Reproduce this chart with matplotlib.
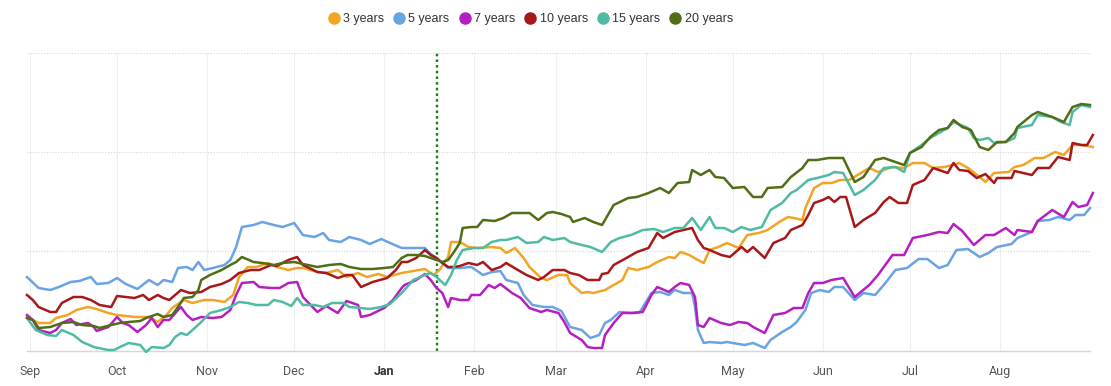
import matplotlib
matplotlib.use('Agg')

import numpy as np
from matplotlib import pyplot as plt

START = np.datetime64('2022-09-01')
MARKER_DAY = 140  # dotted vertical marker (mid January)

# (day offset from START, index value)
y3 = [(-1, 33), (1, 30), (3, 27), (7, 27), (9, 32), (13, 35), (16, 40), (20, 43), (23, 41), (27, 37),
      (30, 35), (33, 34), (36, 33), (39, 33), (41, 33), (44, 28), (47, 35), (49, 42), (53, 50), (56, 47),
      (60, 50), (63, 50), (67, 48), (70, 55), (72, 73), (75, 83), (78, 83), (82, 87), (85, 83), (89, 80),
      (92, 82), (94, 82), (99, 78), (102, 77), (106, 80), (109, 73), (113, 77), (116, 73), (120, 76), (123, 73),
      (128, 77), (132, 79), (136, 81), (139, 75), (141, 80), (144, 93), (145, 108), (148, 108), (151, 103), (154, 102),
      (159, 103), (162, 102), (164, 97), (167, 102), (170, 92), (172, 83), (176, 72), (178, 70), (182, 75), (185, 75),
      (186, 67), (190, 57), (192, 58), (194, 57), (198, 60), (201, 65), (204, 70), (206, 82), (209, 80), (213, 83),
      (216, 88), (220, 93), (222, 92), (224, 98), (227, 95), (230, 90), (232, 87), (234, 100), (237, 103), (240, 107),
      (244, 102), (247, 115), (251, 117), (254, 120), (258, 128), (261, 133), (263, 132), (266, 130), (267, 142), (270, 162),
      (273, 167), (276, 167), (279, 170), (282, 170), (285, 175), (289, 182), (292, 178), (297, 183), (301, 182), (304, 187),
      (308, 187), (311, 182), (315, 183), (320, 187), (323, 182), (327, 173), (329, 168), (332, 177), (337, 178), (339, 183),
      (342, 185), (346, 192), (349, 192), (353, 198), (356, 195), (359, 205), (362, 205), (366, 203)]

y5 = [(-1, 73), (3, 62), (7, 60), (10, 63), (14, 68), (17, 69), (21, 73), (23, 66), (27, 67), (30, 72),
      (33, 66), (37, 61), (41, 70), (44, 65), (46, 70), (49, 68), (51, 82), (54, 83), (56, 80), (58, 88),
      (60, 80), (63, 82), (67, 85), (69, 90), (71, 103), (73, 123), (77, 125), (80, 128), (84, 125), (87, 123),
      (91, 127), (94, 115), (98, 113), (101, 117), (103, 110), (107, 108), (110, 113), (114, 110), (117, 106), (121, 111),
      (124, 107), (128, 102), (131, 102), (136, 102), (138, 96), (140, 92), (142, 87), (144, 82), (148, 82), (152, 83),
      (156, 75), (159, 78), (162, 79), (164, 70), (168, 67), (170, 55), (173, 45), (177, 43), (180, 43), (183, 39),
      (186, 23), (190, 20), (193, 12), (196, 15), (198, 27), (200, 30), (203, 38), (207, 37), (210, 38), (214, 57),
      (217, 58), (220, 55), (222, 60), (225, 57), (228, 57), (229, 43), (230, 20), (232, 7), (234, 8), (238, 7),
      (240, 8), (242, 7), (246, 5), (249, 7), (253, 2), (255, 10), (259, 18), (262, 23), (264, 28), (267, 40),
      (269, 57), (272, 60), (275, 58), (277, 63), (280, 63), (284, 50), (287, 57), (291, 55), (294, 65), (298, 80),
      (302, 82), (306, 91), (309, 91), (313, 82), (316, 85), (319, 100), (323, 101), (327, 93), (330, 97), (333, 103),
      (338, 106), (340, 112), (345, 118), (347, 129), (351, 130), (354, 133), (358, 130), (360, 135), (363, 135), (365, 142)]

y7 = [(-1, 35), (1, 30), (3, 20), (7, 17), (9, 20), (11, 27), (14, 31), (16, 25), (20, 27), (22, 23),
      (23, 19), (27, 23), (30, 33), (32, 27), (34, 25), (37, 18), (40, 25), (42, 32), (44, 23), (46, 30),
      (48, 30), (51, 40), (52, 43), (54, 35), (56, 30), (59, 33), (63, 32), (66, 33), (69, 40), (71, 55),
      (73, 67), (77, 68), (79, 63), (83, 62), (86, 62), (89, 67), (92, 68), (94, 53), (99, 38), (102, 44),
      (106, 37), (109, 49), (113, 45), (114, 33), (117, 35), (122, 42), (125, 50), (128, 62), (129, 65), (133, 70),
      (136, 76), (138, 70), (140, 62), (142, 57), (144, 43), (145, 52), (148, 50), (151, 50), (152, 55), (155, 55),
      (158, 65), (160, 62), (162, 66), (166, 57), (169, 52), (172, 42), (176, 38), (178, 40), (182, 37), (184, 28),
      (186, 17), (190, 10), (192, 3), (194, 2), (197, 2), (198, 15), (201, 27), (204, 37), (208, 37), (211, 38),
      (214, 55), (216, 63), (220, 58), (222, 63), (224, 67), (227, 65), (229, 53), (230, 25), (232, 23), (234, 32),
      (238, 27), (241, 25), (244, 28), (247, 27), (249, 23), (253, 17), (256, 35), (260, 37), (263, 42), (266, 42),
      (268, 57), (270, 67), (273, 67), (276, 70), (280, 72), (284, 53), (289, 65), (292, 75), (297, 95), (301, 95),
      (304, 112), (309, 115), (313, 118), (316, 117), (318, 126), (321, 119), (325, 105), (329, 115), (332, 115), (336, 122),
      (339, 115), (340, 120), (345, 118), (347, 129), (352, 140), (356, 133), (359, 148), (361, 143), (364, 145), (366, 157)]

y10 = [(-1, 55), (1, 50), (3, 43), (7, 38), (9, 38), (11, 47), (15, 53), (18, 53), (21, 50), (24, 45),
       (28, 43), (30, 54), (33, 53), (36, 52), (39, 55), (41, 50), (44, 55), (46, 52), (48, 50), (52, 60),
       (55, 57), (59, 58), (62, 63), (66, 66), (69, 70), (72, 77), (76, 80), (79, 80), (83, 85), (85, 84),
       (89, 90), (92, 93), (94, 85), (99, 78), (102, 77), (106, 72), (109, 75), (111, 75), (114, 63), (118, 68),
       (123, 72), (126, 80), (128, 88), (130, 88), (133, 92), (136, 100), (138, 95), (140, 92), (142, 87), (144, 83),
       (146, 83), (148, 84), (151, 87), (154, 85), (156, 88), (159, 80), (162, 83), (164, 87), (168, 80), (171, 75),
       (175, 70), (177, 73), (180, 80), (184, 80), (186, 77), (189, 75), (192, 70), (196, 70), (197, 76), (199, 77),
       (201, 85), (206, 93), (209, 98), (213, 102), (216, 117), (218, 112), (222, 118), (225, 120), (228, 122), (230, 110),
       (232, 102), (234, 100), (238, 95), (241, 93), (245, 103), (247, 98), (249, 103), (253, 92), (256, 107), (260, 112),
       (262, 120), (266, 125), (268, 135), (270, 147), (273, 150), (275, 153), (277, 148), (279, 153), (281, 153), (284, 123),
       (287, 130), (291, 137), (294, 148), (296, 153), (299, 147), (302, 147), (304, 165), (308, 170), (311, 182), (316, 177),
       (318, 187), (320, 180), (323, 179), (326, 172), (329, 176), (332, 167), (333, 172), (338, 172), (339, 179), (345, 175),
       (347, 182), (351, 182), (354, 193), (358, 190), (359, 207), (362, 205), (364, 205), (366, 215)]

y15 = [(-1, 32), (2, 20), (6, 15), (9, 14), (11, 20), (15, 15), (18, 8), (22, 3), (27, 0), (29, 0),
       (31, 3), (34, 7), (38, 5), (40, -2), (42, 3), (46, 2), (48, 5), (50, 13), (52, 17), (54, 15),
       (56, 20), (59, 28), (62, 37), (66, 40), (69, 43), (72, 48), (75, 47), (78, 45), (82, 45), (84, 50),
       (87, 48), (90, 44), (92, 52), (94, 45), (98, 45), (101, 43), (104, 47), (108, 47), (110, 43), (114, 42),
       (117, 41), (121, 43), (124, 46), (128, 57), (132, 70), (136, 75), (138, 77), (140, 73), (143, 65), (145, 75),
       (147, 90), (149, 100), (153, 102), (156, 102), (159, 108), (162, 110), (164, 110), (168, 113), (171, 107), (175, 108),
       (177, 113), (180, 110), (184, 112), (186, 108), (190, 105), (193, 103), (197, 98), (200, 108), (203, 112), (207, 115),
       (211, 120), (215, 121), (218, 118), (222, 122), (225, 122), (228, 132), (231, 120), (234, 133), (236, 122), (239, 122),
       (242, 118), (245, 123), (248, 120), (252, 123), (255, 140), (259, 147), (262, 157), (264, 160), (268, 170), (271, 172),
       (275, 175), (277, 178), (280, 177), (284, 155), (287, 160), (291, 170), (294, 182), (298, 183), (301, 178), (303, 197),
       (307, 205), (310, 212), (313, 217), (316, 222), (318, 228), (323, 222), (325, 212), (327, 210), (330, 212), (332, 207),
       (336, 208), (339, 212), (340, 222), (345, 225), (347, 235), (352, 233), (355, 228), (358, 225), (359, 238), (362, 245),
       (365, 243)]

y20 = [(-1, 32), (1, 30), (3, 22), (7, 23), (9, 25), (11, 27), (15, 28), (18, 25), (22, 24), (24, 22),
       (28, 25), (31, 27), (34, 28), (38, 29), (40, 32), (44, 36), (46, 33), (49, 35), (51, 43), (53, 52),
       (56, 53), (58, 60), (59, 70), (62, 75), (66, 80), (69, 85), (71, 88), (73, 93), (77, 88), (80, 87),
       (84, 85), (87, 87), (91, 88), (94, 86), (99, 83), (103, 85), (107, 86), (110, 83), (114, 81), (118, 81),
       (122, 82), (125, 83), (128, 92), (130, 95), (133, 95), (136, 94), (138, 92), (140, 90), (142, 88), (144, 90),
       (146, 98), (148, 107), (149, 122), (152, 123), (154, 123), (156, 130), (160, 129), (163, 132), (166, 137), (169, 137),
       (172, 137), (175, 130), (178, 137), (180, 138), (183, 136), (186, 133), (187, 128), (191, 132), (194, 128), (197, 125),
       (199, 135), (201, 145), (206, 152), (209, 153), (213, 157), (217, 162), (220, 157), (223, 167), (227, 168), (228, 180),
       (231, 175), (234, 180), (236, 173), (239, 172), (242, 162), (246, 163), (249, 153), (252, 153), (254, 162), (259, 163),
       (262, 173), (266, 182), (268, 190), (271, 190), (275, 192), (280, 192), (284, 168), (287, 173), (291, 190), (294, 192),
       (298, 188), (301, 185), (303, 197), (307, 203), (310, 213), (313, 220), (316, 222), (318, 230), (321, 223), (324, 220),
       (327, 203), (330, 200), (333, 208), (336, 208), (339, 217), (340, 223), (345, 235), (347, 238), (352, 233), (356, 228),
       (359, 243), (362, 246), (365, 245)]

series = [
    ('3 years', y3, '#f2a425'),
    ('5 years', y5, '#6aa3e4'),
    ('7 years', y7, '#b51fc1'),
    ('10 years', y10, '#a8181a'),
    ('15 years', y15, '#4fbba4'),
    ('20 years', y20, '#4f6e15'),
]

month_labels = ['Sep', 'Oct', 'Nov', 'Dec', 'Jan', 'Feb', 'Mar', 'Apr', 'May', 'Jun', 'Jul', 'Aug']


def days(n):
    return START + np.asarray(n).astype('timedelta64[D]')


def main(output='out.png'):
    fig = plt.figure(figsize=(11.11, 3.86), dpi=100)
    ax = fig.add_axes([27 / 1111, 35 / 386, (1090 - 27) / 1111, (351 - 53) / 386])

    for name, pts, color in series:
        d, v = zip(*pts)
        ax.plot(days(d), v, color=color, lw=1.8, label=name,
                solid_joinstyle='round', clip_on=False, zorder=3)

    ax.axvline(days(MARKER_DAY), color='#1f7a1f', lw=1.7, ls=(0, (1.1, 1.3)), zorder=2)

    ax.set_xlim(days(-1), days(365))
    ax.set_ylim(-1, 297)

    ticks = np.arange('2022-09', '2023-09', dtype='datetime64[M]').astype('datetime64[D]')
    ax.set_xticks(ticks)
    ax.set_xticklabels(month_labels, family='Roboto', fontsize=9, color='#555555')
    for lbl in ax.get_xticklabels():
        if lbl.get_text() == 'Jan':
            lbl.set_fontweight('bold')
            lbl.set_color('#333333')
    ax.tick_params(axis='x', length=0, pad=10)

    ax.set_yticks([99, 198, 297])
    ax.tick_params(axis='y', length=0, labelleft=False)
    ax.grid(axis='y', color='#d5d5d5', lw=0.8, ls=(0, (1, 1.5)))
    ax.grid(axis='x', color='#efefef', lw=0.8)
    ax.set_axisbelow(True)

    for side in ('top', 'left', 'right'):
        ax.spines[side].set_visible(False)
    ax.spines['bottom'].set_color('#d6d6d6')
    ax.spines['bottom'].set_linewidth(1.0)

    handles = [plt.Line2D([], [], ls='none', marker='o', markersize=8,
                          markerfacecolor=c, markeredgecolor=c) for _, _, c in series]
    fig.legend(handles, [s[0] for s in series], loc='center', bbox_to_anchor=(531 / 1111, 1 - 19 / 386),
               ncol=6, frameon=False, handlelength=0.7, handletextpad=0.4, columnspacing=0.85,
               prop={'family': 'Liberation Sans', 'size': 9}, labelcolor='#333333')

    fig.savefig(output, dpi=100)


if __name__ == '__main__':
    main()
